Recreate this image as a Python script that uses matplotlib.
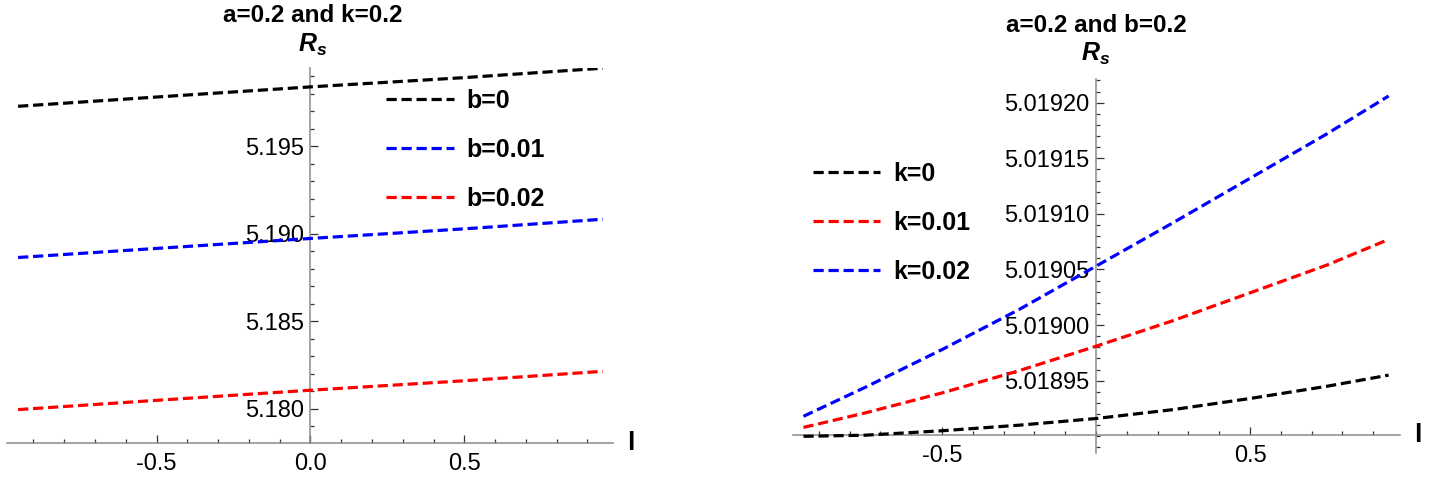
import matplotlib
matplotlib.use("Agg")
import matplotlib.pyplot as plt
from matplotlib.ticker import FixedLocator, MultipleLocator, FormatStrFormatter
from matplotlib.transforms import blended_transform_factory

plt.rcParams['font.family'] = ['Liberation Sans', 'DejaVu Sans']
plt.rcParams['mathtext.fontset'] = 'custom'
plt.rcParams['mathtext.it'] = 'Liberation Sans:italic:bold'
plt.rcParams['mathtext.rm'] = 'Liberation Sans:bold'

# left panel: a=0.2, k=0.2, varying b
l_left = [-0.95, -0.5, 0.0, 0.5, 0.95]
rs_b0 = [5.19729, 5.19782, 5.19840, 5.19893, 5.19947]
rs_b001 = [5.18864, 5.18916, 5.18973, 5.19028, 5.19083]
rs_b002 = [5.17994, 5.18047, 5.18105, 5.18159, 5.18213]
left_labels = ['b=0', 'b=0.01', 'b=0.02']
left_yticks = [5.180, 5.185, 5.190, 5.195]

# right panel: a=0.2, b=0.2, varying k
l_right = [-0.95, -0.75, -0.5, -0.25, 0.0, 0.25, 0.5, 0.75, 0.95]
rs_k0 = [5.018900, 5.018901, 5.018905, 5.018910, 5.018916,
         5.018924, 5.018934, 5.018945, 5.018955]
rs_k001 = [5.018908, 5.018921, 5.018939, 5.018959, 5.018981,
           5.019004, 5.019029, 5.019054, 5.019077]
rs_k002 = [5.018918, 5.018944, 5.018978, 5.019014, 5.019053,
           5.019092, 5.019132, 5.019172, 5.019206]
right_labels = ['k=0', 'k=0.01', 'k=0.02']
right_yticks = [5.01895, 5.01900, 5.01905, 5.01910, 5.01915, 5.01920]

W, H = 1445, 482
DASH = (0, (3.2, 1.5))
TICK_FS = 17
LEG_FS = 18


def style_axes(ax, xlim, ylim, x_cross, xticks, yticks, yminor, yfmt):
    ax.set_xlim(*xlim)
    ax.set_ylim(*ylim)
    for side in ['top', 'right']:
        ax.spines[side].set_visible(False)
    ax.spines['left'].set_position(('data', 0))
    ax.spines['bottom'].set_position(('data', x_cross))
    for side in ['left', 'bottom']:
        ax.spines[side].set_color('#8a8a8a')
        ax.spines[side].set_linewidth(1.1)
    ax.xaxis.set_major_locator(FixedLocator(xticks))
    ax.xaxis.set_minor_locator(MultipleLocator(0.1))
    ax.yaxis.set_major_locator(FixedLocator(yticks))
    ax.yaxis.set_minor_locator(MultipleLocator(yminor))
    ax.yaxis.set_major_formatter(FormatStrFormatter(yfmt))
    ax.xaxis.set_major_formatter(FormatStrFormatter('%.1f'))
    ax.tick_params(which='both', direction='in', color='#333333', width=0.9,
                   labelsize=TICK_FS)
    ax.tick_params(which='major', length=5.5)
    ax.tick_params(which='minor', length=3)
    ax.tick_params(axis='y', which='major', pad=4.5)
    ax.tick_params(axis='x', which='major', pad=7)
    ax.patch.set_alpha(0)
    tr = blended_transform_factory(ax.transAxes, ax.transData)
    ax.text(1.03, x_cross, 'l', transform=tr, fontsize=19, fontweight='bold',
            ha='center', va='center')


fig = plt.figure(figsize=(W / 100, H / 100), dpi=100)

# left panel
ax1 = fig.add_axes([7 / W, (H - 443) / H, 606 / W, 375 / H])
for rs, col, lab in zip([rs_b0, rs_b001, rs_b002], ['black', 'blue', 'red'],
                        left_labels):
    ax1.plot(l_left, rs, color=col, lw=2.3, linestyle=DASH, label=lab,
             zorder=3)
style_axes(ax1, (-0.986, 0.983), (5.17803, 5.19948), 5.17803,
           [-0.5, 0.0, 0.5], left_yticks, 0.001, '%.3f')
ax1.legend(loc='upper left', bbox_to_anchor=(386 / W, 1 - 89 / H),
           bbox_transform=fig.transFigure, frameon=False, borderpad=0,
           borderaxespad=0, handlelength=2.7, handletextpad=0.5,
           labelspacing=1.0, prop={'weight': 'bold', 'size': LEG_FS})

# right panel
ax2 = fig.add_axes([793 / W, (H - 453) / H, 607 / W, 373.7 / H])
for rs, col, lab in zip([rs_k0, rs_k001, rs_k002], ['black', 'red', 'blue'],
                        right_labels):
    ax2.plot(l_right, rs, color=col, lw=2.3, linestyle=DASH, label=lab,
             zorder=3)
style_axes(ax2, (-0.984, 0.987), (5.018885, 5.019221), 5.018901,
           [-0.5, 0.5], right_yticks, 0.00001, '%.5f')
ax2.legend(loc='upper left', bbox_to_anchor=(813 / W, 1 - 162 / H),
           bbox_transform=fig.transFigure, frameon=False, borderpad=0,
           borderaxespad=0, handlelength=2.7, handletextpad=0.5,
           labelspacing=1.0, prop={'weight': 'bold', 'size': LEG_FS})

# plot labels and vertical axis labels
fig.text(313 / W, 1 - 15 / H, 'a=0.2 and k=0.2', fontsize=17.5,
         fontweight='bold', ha='center', va='center')
fig.text(313 / W, 1 - 45 / H, '$R_s$', fontsize=18, ha='center',
         va='center')
fig.text(1096 / W, 1 - 25 / H, 'a=0.2 and b=0.2', fontsize=17.5,
         fontweight='bold', ha='center', va='center')
fig.text(1096 / W, 1 - 54 / H, '$R_s$', fontsize=18, ha='center',
         va='center')

fig.savefig('out.png', dpi=100)
